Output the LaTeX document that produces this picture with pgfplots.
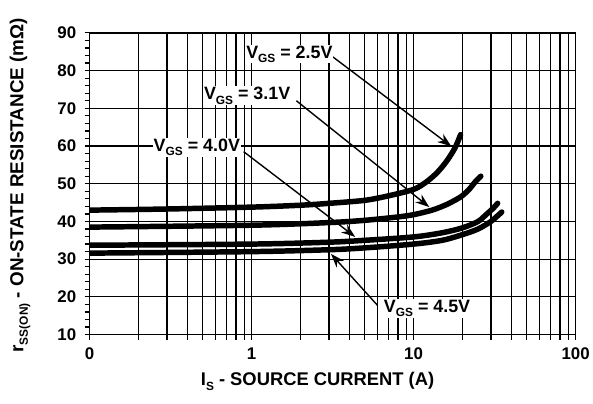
\documentclass[border=0pt]{standalone}
\usepackage{fontspec}
\setmainfont{Liberation Sans}
\usepackage{pgfplots}
\pgfplotsset{compat=1.18}
\usetikzlibrary{arrows.meta}
\newcommand{\sub}[1]{\raisebox{-0.45ex}{\fontsize{12}{12}\selectfont #1}}
\tikzset{
  lbl/.style={fill=white, inner sep=1bp, font=\fontsize{18}{20}\selectfont\bfseries},
  arr/.style={black, line width=1.4bp, -{Stealth[length=14bp,width=10bp]}},
}
\begin{document}
\begin{tikzpicture}
\begin{axis}[
  scale only axis, width=488bp, height=303bp,
  xmode=log, xmin=0.1, xmax=100, ymin=10, ymax=90,
  xtick={0.1,1,10,100}, xticklabels={0,1,10,100},
  minor xtick={0.2,0.3,0.4,0.5,0.6,0.7,0.8,0.9,2,3,4,5,6,7,8,9,20,30,40,50,60,70,80,90},
  ytick={10,20,30,40,50,60,70,80,90}, minor y tick num=4,
  tick pos=left, tick align=outside,
  major tick length=5bp, minor tick length=5bp,
  xmajorgrids, xminorgrids, ymajorgrids,
  grid style={black, line width=1.2bp},
  minor grid style={black, line width=1.2bp},
  axis line style={black, line width=1.3bp},
  every tick/.style={black, line width=1.2bp},
  /pgf/number format/assume math mode=true,
  tick label style={font=\fontsize{17}{19}\selectfont\bfseries},
  xticklabel style={yshift=-5bp},
  yticklabel style={xshift=-5bp},
  xlabel={I\sub{S} - SOURCE CURRENT (A)},
  ylabel={r\sub{SS(ON)} - ON-STATE RESISTANCE (mΩ)},
  xlabel style={font=\fontsize{18.5}{20}\selectfont\bfseries, at={(axis description cs:0.469,-0.155)}, anchor=center},
  ylabel style={font=\fontsize{19}{20}\selectfont\bfseries, at={(axis description cs:-0.143,0.495)}, anchor=center},
]
\addplot[black, line width=5.5bp, smooth, line cap=round] coordinates {
 (0.1,43.0) (0.3,43.3) (1,43.8) (2,44.3) (3,44.8) (5,45.6) (7,46.8) (10,48.5) (12,50.5) (14,53) (16,56) (18,59.5) (19.5,63)};
\addplot[black, line width=5.5bp, smooth, line cap=round] coordinates {
 (0.1,38.5) (1,39.0) (3,39.7) (5,40.3) (8,41.2) (10,41.8) (13,43) (16,44.5) (19.5,46.5) (22,48.5) (24,50.5) (26,52)};
\addplot[black, line width=5.5bp, smooth, line cap=round] coordinates {
 (0.1,33.7) (1,34.0) (3,34.5) (5,35) (10,35.9) (15,37) (20,38.3) (25,40) (28,41.8) (31,43.5) (33,44.8)};
\addplot[black, line width=5.5bp, smooth, line cap=round] coordinates {
 (0.1,31.6) (1,32.0) (3,32.5) (5,33) (10,34) (15,35) (20,36.5) (25,38) (30,40) (33,41.5) (35,42.5)};
\draw[arr] (axis cs:3.18,83.6) -- (axis cs:17.1,59.9);
\draw[arr] (axis cs:1.89,72.0) -- (axis cs:12.5,43.8);
\draw[arr] (axis cs:0.893,58.5) -- (axis cs:4.36,35.9);
\draw[arr] (axis cs:6.0,17.7) -- (axis cs:3.09,31.4);
\node[lbl] at (axis cs:1.71,84.4) {V\sub{GS} = 2.5V};
\node[lbl] at (axis cs:0.938,73.3) {V\sub{GS} = 3.1V};
\node[lbl] at (axis cs:0.459,59.7) {V\sub{GS} = 4.0V};
\node[lbl] at (axis cs:12.1,16.9) {V\sub{GS} = 4.5V};
\end{axis}
\path (current axis.south west) ++(-90bp,-69bp) rectangle ([shift={(15bp,33bp)}]current axis.north east);
\end{tikzpicture}
\end{document}
